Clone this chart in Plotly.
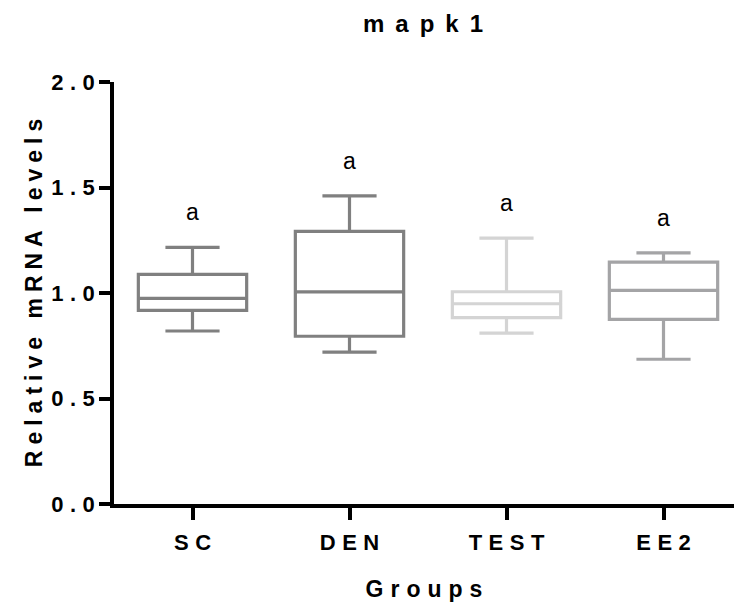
import plotly.graph_objects as go

groups = ["SC", "DEN", "TEST", "EE2"]
lower_whisker = [0.82, 0.72, 0.81, 0.686]
q1_vals = [0.918, 0.795, 0.883, 0.875]
median_vals = [0.975, 1.005, 0.949, 1.012]
q3_vals = [1.088, 1.292, 1.006, 1.146]
upper_whisker = [1.216, 1.46, 1.26, 1.19]
colors = ["#808080", "#808080", "#d4d4d4", "#a4a4a6"]
letters = ["a", "a", "a", "a"]

FONT = "Liberation Sans, Arial, sans-serif"

fig = go.Figure()
for i, g in enumerate(groups):
    fig.add_trace(go.Box(
        x=[g], q1=[q1_vals[i]], median=[median_vals[i]], q3=[q3_vals[i]],
        lowerfence=[lower_whisker[i]], upperfence=[upper_whisker[i]],
        name=g, width=0.69, whiskerwidth=0.5,
        line=dict(color=colors[i], width=3.2),
        fillcolor="white", boxpoints=False, showlegend=False, hoverinfo="skip",
    ))

for i, g in enumerate(groups):
    fig.add_annotation(x=g, y=upper_whisker[i], text=letters[i], showarrow=False,
                       yanchor="bottom", yshift=20,
                       font=dict(family=FONT, size=23, color="black"))

plot_w = 734 - 114
fig.update_layout(
    width=734, height=604,
    margin=dict(l=114, r=0, t=82, b=100, autoexpand=False),
    paper_bgcolor="white", plot_bgcolor="white",
    title=dict(text="<b>mapk1</b>", x=428.5 / 734, xref="container", xanchor="center",
               y=1 - 24 / 604, yref="container", yanchor="middle",
               font=dict(family=FONT, size=24, color="black")),
    xaxis=dict(
        type="category", range=[-0.5, -0.5 + plot_w / 157.0],
        showline=True, linecolor="black", linewidth=3.5,
        ticks="outside", ticklen=12, tickwidth=3.5, tickcolor="black",
        ticklabelstandoff=4,
        tickfont=dict(family=FONT, size=22, color="black", weight="bold"),
        showgrid=False, zeroline=False,
        title=dict(text="<b>Groups</b>", standoff=28,
                   font=dict(family=FONT, size=23, color="black")),
    ),
    yaxis=dict(
        range=[0, 2.0], tickvals=[0, 0.5, 1.0, 1.5, 2.0], tickformat=".1f",
        showline=True, linecolor="black", linewidth=3.5,
        ticks="outside", ticklen=11, tickwidth=3.5, tickcolor="black",
        ticklabelstandoff=0,
        tickfont=dict(family=FONT, size=22, color="black", weight="bold"),
        showgrid=False, zeroline=False,
        title=dict(text="<b>Relative mRNA levels</b>", standoff=16,
                   font=dict(family=FONT, size=23, color="black")),
    ),
)

# left extension of the x-axis line past the y-axis
fig.add_shape(type="line", xref="paper", yref="y", x0=-12 / plot_w, x1=0, y0=0, y1=0,
              line=dict(color="black", width=3.5))

post = """
document.body.style.margin='0';document.body.style.padding='0';
function sp(sel, s, comp){
  document.querySelectorAll(sel).forEach(function(t){
    t.style.letterSpacing = s + 'px';
    t.setAttribute('dx', comp);
  });
}
sp('.xtick text', 6.5, 3.25);
sp('.ytick text', 6.5, 6.5);
sp('.g-xtitle text', 7, 3.5);
sp('.g-ytitle text', 6, 3);
sp('.g-gtitle text', 11, 0);
"""

fig.write_html("out.html", config={"displayModeBar": False}, post_script=post)
